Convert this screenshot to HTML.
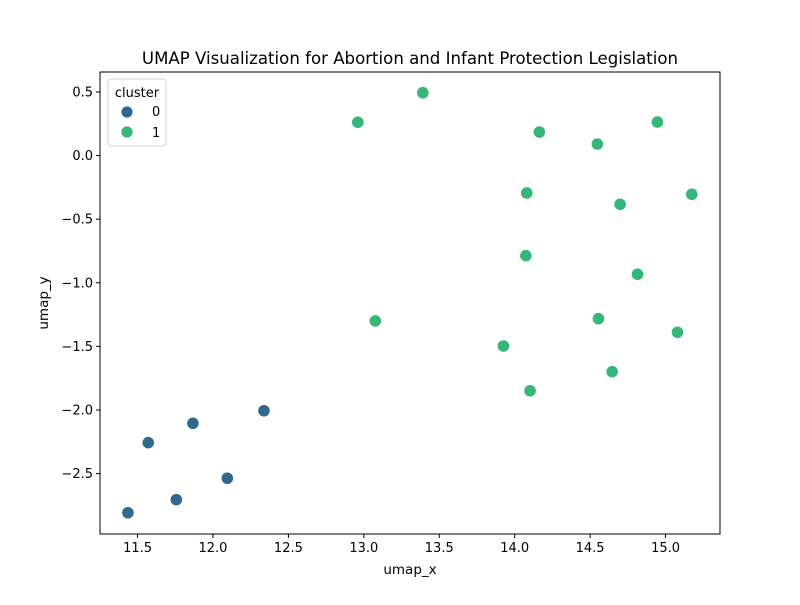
<!DOCTYPE html>
<html><head><meta charset="utf-8"><style>
body{margin:0;background:#fff}
svg text{font-family:"DejaVu Sans","Liberation Sans",sans-serif;fill:#000}
</style></head><body>
<svg id="chart" width="800" height="600" xmlns="http://www.w3.org/2000/svg">
<rect width="800" height="600" fill="#fff"/>
<text x="410" y="64" font-size="16.6" text-anchor="middle">UMAP Visualization for Abortion and Infant Protection Legislation</text>
<g id="plot"></g>
<rect x="100" y="72" width="620" height="462" fill="none" stroke="#000" stroke-width="1"/>
<text x="410" y="574" font-size="13.5" text-anchor="middle">umap_x</text>
<text transform="translate(48,303) rotate(-90)" font-size="13.5" text-anchor="middle">umap_y</text>
<g>
<rect x="108" y="79" width="58" height="67" rx="3" fill="#fff" stroke="#ccc" opacity="0.9"/>
<text x="137" y="97" font-size="13" text-anchor="middle">cluster</text>
<circle cx="127" cy="112" r="6" fill="#31688e" stroke="#fff" stroke-width="0.8"/>
<text x="152" y="116" font-size="13">0</text>
<circle cx="127" cy="132" r="6" fill="#35b779" stroke="#fff" stroke-width="0.8"/>
<text x="152" y="137" font-size="13">1</text>
</g>
</svg>
<script>
const xTicks=[11.5,12.0,12.5,13.0,13.5,14.0,14.5,15.0];
const yTicks=[0.5,0.0,-0.5,-1.0,-1.5,-2.0,-2.5];
const cluster0X=[11.436,11.571,11.757,11.867,12.095,12.338];
const cluster0Y=[-2.808,-2.257,-2.705,-2.105,-2.537,-2.006];
const cluster1X=[12.960,13.391,14.164,14.548,14.946,14.080,14.699,15.174,14.074,14.814,13.076,14.555,15.079,13.925,14.646,14.102];
const cluster1Y=[0.262,0.494,0.185,0.091,0.264,-0.294,-0.383,-0.304,-0.787,-0.933,-1.300,-1.282,-1.389,-1.497,-1.699,-1.849];
const colors=["#31688e","#35b779"];
const ns="http://www.w3.org/2000/svg";
const X0=100,X1=720,Y0=72,Y1=534,xmin=11.251,xmax=15.361,ymin=-2.975,ymax=0.657;
function sx(v){return X0+(v-xmin)/(xmax-xmin)*(X1-X0);}
function sy(v){return Y1-(v-ymin)/(ymax-ymin)*(Y1-Y0);}
const g=document.getElementById('plot');
function mk(t,a){const e=document.createElementNS(ns,t);for(const k in a)e.setAttribute(k,a[k]);g.appendChild(e);return e;}
xTicks.forEach(v=>{const x=sx(v);
 const l=mk('line',{x1:x,x2:x,y1:Y1,y2:Y1+4,stroke:'#000'});
 
 
 const t=mk('text',{x:x,y:Y1+18,'font-size':13,'text-anchor':'middle'});t.textContent=v.toFixed(1);
 
 });
yTicks.forEach(v=>{const y=sy(v);
 const l=mk('line',{x1:X0-4,x2:X0,y1:y,y2:y,stroke:'#000'});
 
 
 const t=mk('text',{x:X0-7,y:y+4.5,'font-size':13,'text-anchor':'end'});t.textContent=v.toFixed(1).replace('-','\u2212');
 
 });
[[cluster0X,cluster0Y,0],[cluster1X,cluster1Y,1]].forEach(([xs,ys,c])=>{
 xs.forEach((v,i)=>{const p=mk('circle',{cx:sx(v),cy:sy(ys[i]),r:6.2,fill:colors[c],stroke:'#fff','stroke-width':0.8});
 
 });
});
</script>
</body></html>
